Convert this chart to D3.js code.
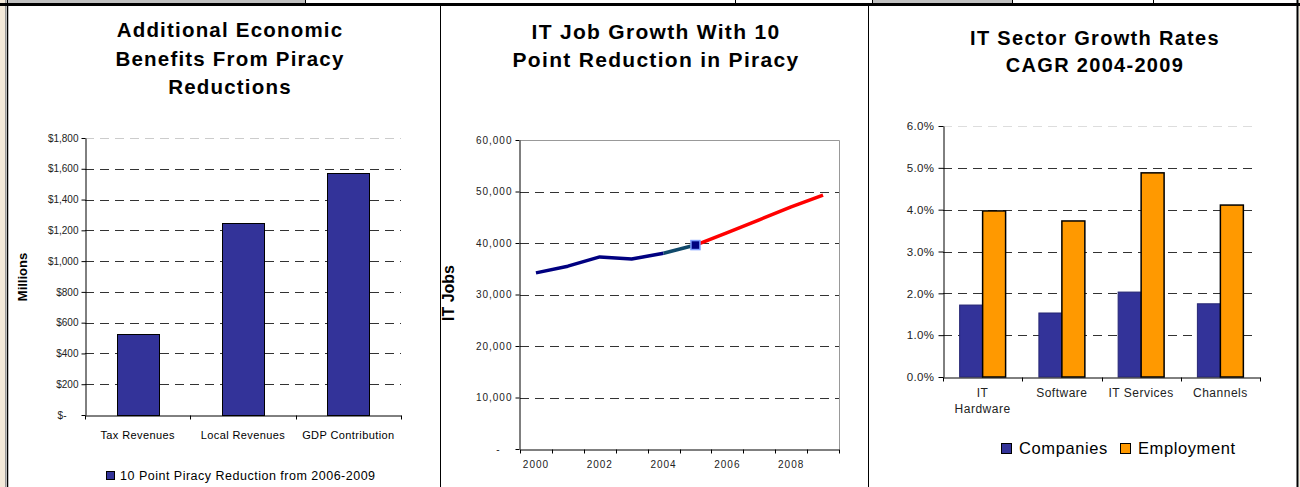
<!DOCTYPE html>
<html>
<head>
<meta charset="utf-8">
<script src="https://cdn.jsdelivr.net/npm/d3@7"></script>
<style>
  body { margin: 0; background: #fff; }
  svg { display: block; font-family: "Liberation Sans", Arial, sans-serif; }
</style>
</head>
<body>
<div id="chart"></div>
<script>
//panel 1 data
const benefitCategories = ["Tax Revenues", "Local Revenues", "GDP Contribution"];
const benefitValues = [525, 1250, 1570];
const benefitTicks = [0, 200, 400, 600, 800, 1000, 1200, 1400, 1600, 1800];
const benefitLegend = "10 Point Piracy Reduction from 2006-2009";

//panel 2 data
const jobYears = [2000, 2001, 2002, 2003, 2004, 2005, 2006, 2007, 2008, 2009];
const jobValues = [34200, 35500, 37300, 36900, 38000, 39600, 42000, 44500, 47000, 49300];
const jobTicks = [0, 10000, 20000, 30000, 40000, 50000, 60000];
const yearLabels = [2000, 2002, 2004, 2006, 2008];

//panel 3 data
const sectors = ["IT Hardware", "Software", "IT Services", "Channels"];
const sectorLabelLines = [["IT", "Hardware"], ["Software"], ["IT Services"], ["Channels"]];
const seriesNames = ["Companies", "Employment"];
const companyRates = [0.0172, 0.0153, 0.0203, 0.0175];
const employmentRates = [0.0397, 0.0373, 0.0488, 0.0411];
const rateTicks = [0, 0.01, 0.02, 0.03, 0.04, 0.05, 0.06];

//colors
const navyBar = "#333399";
const orangeBar = "#ff9900";

const width = 1300;
const height = 487;

const svg = d3.select("#chart")
  .append("svg")
  .attr("width", width)
  .attr("height", height);

//frame: beige strip, top table row, panel dividers
svg.append("rect").attr("x", 0).attr("y", 0).attr("width", 5).attr("height", height).attr("fill", "#f3e9d9");
svg.append("rect").attr("x", 1299).attr("y", 0).attr("width", 1).attr("height", height).attr("fill", "#f3e9d9");
svg.append("line").attr("x1", 5.5).attr("x2", 5.5).attr("y1", 0).attr("y2", height).attr("stroke", "#999");
svg.append("line").attr("x1", 7.5).attr("x2", 7.5).attr("y1", 0).attr("y2", height).attr("stroke", "#000").attr("stroke-width", 1.5);

const topCells = [[8, 305, "#c0c0c0"], [306, 735, "#fff"], [736, 872, "#fff"], [873, 1012, "#c0c0c0"], [1013, 1153, "#fff"], [1154, 1297, "#fff"]];
topCells.forEach(([x0, x1, c]) => {
  svg.append("rect").attr("x", x0).attr("y", 0).attr("width", x1 - x0).attr("height", 3).attr("fill", c);
  svg.append("line").attr("x1", x1 + 0.5).attr("x2", x1 + 0.5).attr("y1", 0).attr("y2", 3).attr("stroke", "#000");
});
svg.append("rect").attr("x", 0).attr("y", 3).attr("width", width).attr("height", 3).attr("fill", "#000");

[440.5, 868.5].forEach((x) =>
  svg.append("line").attr("x1", x).attr("x2", x).attr("y1", 6).attr("y2", height).attr("stroke", "#000")
);
svg.append("line").attr("x1", 1297.5).attr("x2", 1297.5).attr("y1", 0).attr("y2", height).attr("stroke", "#000").attr("stroke-width", 2);

//helpers
function title(lines, cx, y0, step, size, ls) {
  const t = svg.append("text")
    .attr("text-anchor", "middle")
    .attr("font-weight", "bold")
    .attr("font-size", size)
    .attr("letter-spacing", ls)
    .attr("fill", "#000");
  lines.forEach((l, i) => t.append("tspan").attr("x", cx).attr("y", y0 + i * step).text(l));
}

function grid(g, y, ticks, x0, x1, topColor) {
  g.selectAll("line.grid")
    .data(ticks.filter((d) => d > 0))
    .enter()
    .append("line")
    .attr("class", "grid")
    .attr("x1", x0)
    .attr("x2", x1)
    .attr("y1", (d) => Math.round(y(d)) + 0.5)
    .attr("y2", (d) => Math.round(y(d)) + 0.5)
    .attr("stroke", (d, i, arr) => (i === arr.length - 1 && topColor ? topColor : "#333"))
    .attr("stroke-dasharray", "9,6");
}

function styleAxis(g, size, ls) {
  g.attr("font-family", null).attr("font-size", size);
  g.selectAll("text").attr("fill", "#222").attr("letter-spacing", ls);
  g.selectAll("line, path").attr("stroke", "#000");
}

// ---------- panel 1 ----------
title(["Additional Economic", "Benefits From Piracy", "Reductions"], 230, 37, 28.5, 20.5, 1.2);

const y1 = d3.scaleLinear().domain([0, 1800]).range([415, 138]);
const x1 = d3.scaleBand().domain(benefitCategories).range([85, 401]);
const p1 = svg.append("g");

grid(p1, y1, benefitTicks, 85, 401, "#ccc");

p1.selectAll("rect.bar")
  .data(benefitValues)
  .enter()
  .append("rect")
  .attr("class", "bar")
  .attr("x", (d, i) => Math.round(x1(benefitCategories[i]) + x1.bandwidth() * 0.3) + 0.5)
  .attr("width", Math.round(x1.bandwidth() * 0.4))
  .attr("y", (d) => Math.round(y1(d)) + 0.5)
  .attr("height", (d) => y1(0) - Math.round(y1(d)))
  .attr("fill", navyBar)
  .attr("stroke", "#000");

const ax1 = p1.append("g")
  .attr("transform", "translate(85.5,0)")
  .call(d3.axisLeft(y1).tickValues(benefitTicks).tickSize(4).tickSizeOuter(0)
    .tickFormat((d) => (d === 0 ? "$-" : "$" + d3.format(",")(d))));
styleAxis(ax1, 10, 0);
ax1.selectAll(".tick").filter((d) => d === 0).select("text").attr("dx", -12);

const bx1 = p1.append("g")
  .attr("transform", `translate(0,${Math.round(y1(0)) + 0.5})`)
  .call(d3.axisBottom(x1).tickSize(0).tickSizeOuter(0).tickPadding(16));
styleAxis(bx1, 11, 0.4);
bx1.selectAll(".tick text").attr("fill", "#000");
bx1.selectAll("line.bound")
  .data(d3.range(benefitCategories.length + 1))
  .enter()
  .append("line")
  .attr("class", "bound")
  .attr("x1", (i) => Math.round(x1.range()[0] + i * x1.step()) + 0.5)
  .attr("x2", (i) => Math.round(x1.range()[0] + i * x1.step()) + 0.5)
  .attr("y1", 0)
  .attr("y2", 4)
  .attr("stroke", "#000");

svg.append("text")
  .attr("transform", "translate(27,277) rotate(-90)")
  .attr("text-anchor", "middle")
  .attr("font-weight", "bold")
  .attr("font-size", 13)
  .text("Millions");

svg.append("rect").attr("x", 106.5).attr("y", 471.5).attr("width", 8).attr("height", 8)
  .attr("fill", navyBar).attr("stroke", "#000");
svg.append("text").attr("x", 120).attr("y", 480).attr("font-size", 12.5).attr("letter-spacing", 0.5)
  .text(benefitLegend);

// ---------- panel 2 ----------
title(["IT Job Growth With 10", "Point Reduction in Piracy"], 656, 39, 28, 21, 1.3);

const y2 = d3.scaleLinear().domain([0, 60000]).range([449, 140]);
const x2 = d3.scaleBand().domain(jobYears).range([520, 839]);
const p2 = svg.append("g");

grid(p2, y2, jobTicks.slice(0, -1), 520, 839, null);

//plot area border top and right
p2.append("path")
  .attr("d", `M520,${Math.round(y2(60000)) + 0.5}H839.5V${Math.round(y2(0))}`)
  .attr("fill", "none")
  .attr("stroke", "#999");

const ax2 = p2.append("g")
  .attr("transform", "translate(519.5,0)")
  .call(d3.axisLeft(y2).tickValues(jobTicks).tickSize(4).tickSizeOuter(0)
    .tickFormat((d) => (d === 0 ? "-" : d3.format(",")(d))));
styleAxis(ax2, 10, 1);
ax2.selectAll(".tick").filter((d) => d === 0).select("text").attr("dx", -12);

const bx2 = p2.append("g")
  .attr("transform", `translate(0,${Math.round(y2(0)) + 0.5})`)
  .call(d3.axisBottom(x2).tickSize(0).tickSizeOuter(0).tickPadding(11)
    .tickFormat((d) => (yearLabels.includes(d) ? d : "")));
styleAxis(bx2, 10, 1);
bx2.selectAll("line.bound")
  .data(d3.range(jobYears.length + 1))
  .enter()
  .append("line")
  .attr("class", "bound")
  .attr("x1", (i) => Math.round(x2.range()[0] + i * x2.step()) + 0.5)
  .attr("x2", (i) => Math.round(x2.range()[0] + i * x2.step()) + 0.5)
  .attr("y1", 0)
  .attr("y2", 4)
  .attr("stroke", "#000");

const jobPts = jobYears.map((yr, i) => [x2(yr) + x2.bandwidth() / 2, y2(jobValues[i])]);
const lineGen = d3.line();
const segments = [
  { pts: jobPts.slice(0, 5), color: "#000080" },
  { pts: jobPts.slice(4, 6), color: "#10496b" },
  { pts: jobPts.slice(5), color: "#ff0000" },
];
p2.selectAll("path.series")
  .data(segments)
  .enter()
  .append("path")
  .attr("class", "series")
  .attr("d", (d) => lineGen(d.pts))
  .attr("fill", "none")
  .attr("stroke", (d) => d.color)
  .attr("stroke-width", 3.5)
  .attr("stroke-linejoin", "round");

p2.append("rect")
  .attr("x", jobPts[5][0] - 4.5)
  .attr("y", jobPts[5][1] - 4.5)
  .attr("width", 9)
  .attr("height", 9)
  .attr("fill", "#000080")
  .attr("stroke", "#7c9cff")
  .attr("stroke-width", 1.5);

svg.append("text")
  .attr("transform", "translate(454,293) rotate(-90)")
  .attr("text-anchor", "middle")
  .attr("font-weight", "bold")
  .attr("font-size", 16)
  .text("IT Jobs");

// ---------- panel 3 ----------
title(["IT Sector Growth Rates", "CAGR 2004-2009"], 1095, 45, 27, 20, 1.3);

const y3 = d3.scaleLinear().domain([0, 0.06]).range([377, 126]);
const x3 = d3.scaleBand().domain(sectors).range([943, 1260]);
const xs = d3.scaleBand().domain(seriesNames).range([x3.bandwidth() * 0.21, x3.bandwidth() * 0.79]);
const p3 = svg.append("g");

grid(p3, y3, rateTicks, 943, 1258, "#ddd");

const rateRows = sectors.map((s, i) => ({ sector: s, values: [companyRates[i], employmentRates[i]] }));
const group = p3.selectAll("g.sector")
  .data(rateRows)
  .enter()
  .append("g")
  .attr("class", "sector")
  .attr("transform", (d) => `translate(${x3(d.sector)},0)`);

group.selectAll("rect")
  .data((d) => d.values.map((v, j) => ({ v, s: seriesNames[j] })))
  .enter()
  .append("rect")
  .attr("x", (d) => xs(d.s))
  .attr("width", xs.bandwidth())
  .attr("y", (d) => y3(d.v))
  .attr("height", (d) => y3(0) - y3(d.v))
  .attr("fill", (d) => (d.s === "Companies" ? navyBar : orangeBar))
  .attr("stroke", (d) => (d.s === "Companies" ? "#262673" : "#000"))
  .attr("stroke-width", (d) => (d.s === "Companies" ? 1 : 1.5));

const ax3 = p3.append("g")
  .attr("transform", "translate(943.5,0)")
  .call(d3.axisLeft(y3).tickValues(rateTicks).tickSize(5).tickSizeOuter(0).tickPadding(4)
    .tickFormat(d3.format(".1%")));
styleAxis(ax3, 11.5, 0.4);

const bx3 = p3.append("g")
  .attr("transform", `translate(0,${Math.round(y3(0)) + 0.5})`)
  .call(d3.axisBottom(x3).tickSize(0).tickSizeOuter(0).tickFormat(""));
styleAxis(bx3, 12, 0.5);
bx3.selectAll("line.bound")
  .data(d3.range(sectors.length + 1))
  .enter()
  .append("line")
  .attr("class", "bound")
  .attr("x1", (i) => Math.round(x3.range()[0] + i * x3.step()) + 0.5)
  .attr("x2", (i) => Math.round(x3.range()[0] + i * x3.step()) + 0.5)
  .attr("y1", 0)
  .attr("y2", 4)
  .attr("stroke", "#000");

const catLabel = p3.selectAll("text.cat")
  .data(sectors)
  .enter()
  .append("text")
  .attr("class", "cat")
  .attr("text-anchor", "middle")
  .attr("font-size", 12)
  .attr("letter-spacing", 0.5)
  .attr("fill", "#222");
catLabel.each(function (d, i) {
  sectorLabelLines[i].forEach((l, k) =>
    d3.select(this).append("tspan")
      .attr("x", x3(d) + x3.bandwidth() / 2)
      .attr("y", 397 + k * 16)
      .text(l)
  );
});

const legend3 = svg.append("g").attr("class", "legend");
const legX = [1001, 1120];
seriesNames.forEach((s, i) => {
  legend3.append("rect")
    .attr("x", legX[i] + 0.5).attr("y", 443.5)
    .attr("width", 10).attr("height", 10)
    .attr("fill", i === 0 ? navyBar : orangeBar)
    .attr("stroke", "#000");
  legend3.append("text")
    .attr("x", legX[i] + 18).attr("y", 454)
    .attr("font-size", 16.5)
    .attr("letter-spacing", 0.6)
    .text(s);
});
</script>
</body>
</html>
